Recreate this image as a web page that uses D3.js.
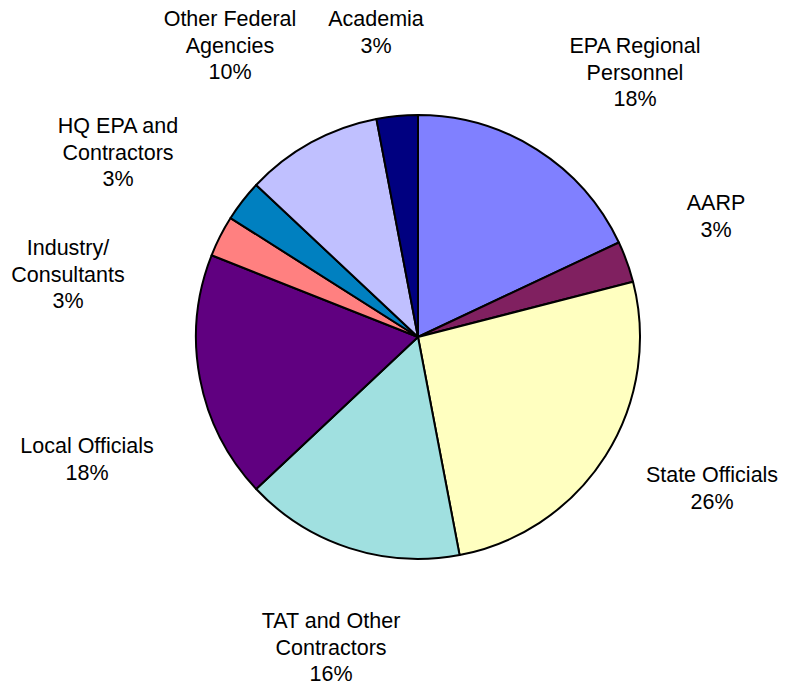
<!DOCTYPE html>
<html>
<head>
<meta charset="utf-8">
<script src="https://cdn.jsdelivr.net/npm/d3@7"></script>
<style>
  html, body { margin: 0; padding: 0; background: #fff; }
  text { font-family: "Liberation Sans", Arial, sans-serif; font-size: 21.5px; fill: #000; }
</style>
</head>
<body>
<svg id="chart" width="785" height="686"></svg>
<script>
// Participant groups, in clockwise order from 12 o'clock
const categories = [
  "EPA Regional Personnel", "AARP", "State Officials", "TAT and Other Contractors",
  "Local Officials", "Industry/ Consultants", "HQ EPA and Contractors",
  "Other Federal Agencies", "Academia"
];
const shares = [18, 3, 26, 16, 18, 3, 3, 10, 3];
const colors = [
  "#8080FF", "#802060", "#FFFFC0", "#A0E0E0",
  "#600080", "#FF8080", "#0080C0", "#C0C0FF", "#000080"
];
// Label text lines for each group
const labelLines = [
  ["EPA Regional", "Personnel"],
  ["AARP"],
  ["State Officials"],
  ["TAT and Other", "Contractors"],
  ["Local Officials"],
  ["Industry/", "Consultants"],
  ["HQ EPA and", "Contractors"],
  ["Other Federal", "Agencies"],
  ["Academia"]
];
// Label anchor (centre x, first-line y)
const labelAnchors = [
  [635, 46], [716, 203], [712, 475], [331, 621], [87, 446],
  [68, 248], [118, 126], [230, 19], [376, 19]
];

const svg = d3.select("#chart");
const cx = 418, cy = 337, r = 222, lineH = 26.5;

const data = categories.map((c, i) => ({ name: c, value: shares[i], color: colors[i] }));

const pie = d3.pie().value(d => d.value).sort(null);
const arc = d3.arc().innerRadius(0).outerRadius(r);

const g = svg.append("g").attr("transform", `translate(${cx},${cy})`);
g.selectAll("path")
  .data(pie(data))
  .join("path")
  .attr("d", arc)
  .attr("fill", d => d.data.color)
  .attr("stroke", "#000")
  .attr("stroke-width", 2)
  .attr("stroke-linejoin", "round");

const labels = svg.append("g");
data.forEach((d, i) => {
  const [x, y] = labelAnchors[i];
  const lines = labelLines[i].concat([d3.format(".0f")(d.value) + "%"]);
  const t = labels.append("text")
    .attr("text-anchor", "middle")
    .attr("x", x)
    .attr("y", y)
    .attr("dominant-baseline", "central");
  lines.forEach((ln, k) => {
    t.append("tspan").attr("x", x).attr("y", y + k * lineH).text(ln);
  });
});
</script>
</body>
</html>
